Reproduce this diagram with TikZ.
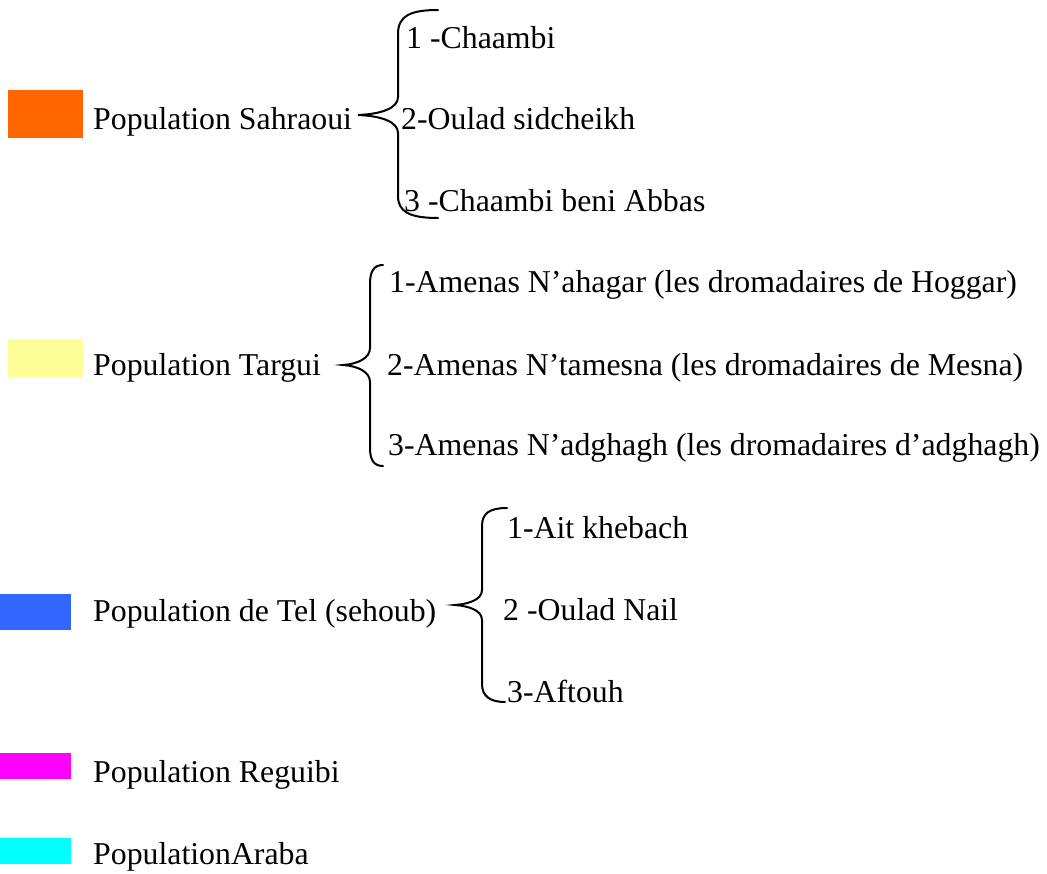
\documentclass[tikz,border=0pt]{standalone}
\usepackage{fontspec}
\setmainfont{Liberation Serif}
\definecolor{sahara}{HTML}{FF6600}
\definecolor{targui}{HTML}{FFFF99}
\definecolor{tel}{HTML}{3366FF}
\definecolor{reguibi}{HTML}{FF00FF}
\definecolor{araba}{HTML}{00FFFF}
\tikzset{swatch/.style = {inner sep=0, outer sep=0, anchor=north west}}
\tikzset{poptext/.style = {inner sep=0, anchor=base west}}
\tikzset{curly/.style = {line width=2pt, line cap=round}}

\begin{document}
\begin{tikzpicture}[x=1pt, y=-1pt, font=\fontsize{31.8}{36}\selectfont]
          \useasboundingbox (0,0) rectangle (1047,873);
          % colour swatches
          \node[swatch, fill=sahara, minimum width=75, minimum height=48] (sahraoui-box) at (8,90) {};
          \node[swatch, fill=targui, minimum width=75, minimum height=39] (targui-box) at (8,339) {};
          \node[swatch, fill=tel, minimum width=71, minimum height=36] (tel-box) at (0,594) {};
          \node[swatch, fill=reguibi, minimum width=71, minimum height=26] (reguibi-box) at (0,753) {};
          \node[swatch, fill=araba, minimum width=71, minimum height=26] (araba-box) at (0,838) {};

          \node[poptext] (sahraoui) at (93,129) {Population Sahraoui};
          \node[poptext] (targui) at (93,375) {Population Targui};
          \node[poptext] (tel) at (93,621) {Population de Tel (sehoub)};
          \node[poptext] (reguibi) at (93,782) {Population Reguibi};
          \node[poptext] (araba) at (93,864) {PopulationAraba};

          \node[poptext] (sahraoui-1) at (406,48) {1 -Chaambi};
          \node[poptext] (sahraoui-2) at (401,129) {2-Oulad sidcheikh};
          \node[poptext] (sahraoui-3) at (404,211) {3 -Chaambi beni Abbas};

          \node[poptext] (targui-1) at (389,292) {1-Amenas N’ahagar (les dromadaires de Hoggar)};
          \node[poptext] (targui-2) at (387,375) {2-Amenas N’tamesna (les dromadaires de Mesna)};
          \node[poptext] (targui-3) at (388,455) {3-Amenas N’adghagh (les dromadaires d’adghagh)};

          \node[poptext] (tel-1) at (507,538) {1-Ait khebach};
          \node[poptext] (tel-2) at (503,620) {2 -Oulad Nail};
          \node[poptext] (tel-3) at (507,702) {3-Aftouh};

          % braces
          \draw[curly] (438,10) .. controls (410,10) and (398,16) .. (398,34) -- (398,97)
            .. controls (398,108) and (382,114) .. (358,115)
            .. controls (382,116) and (398,122) .. (398,133) -- (398,196)
            .. controls (398,212) and (410,218) .. (438,218);
          \draw[curly] (383,265) .. controls (374,265) and (370,271) .. (370,284) -- (370,348)
            .. controls (370,358) and (358,364) .. (343,365)
            .. controls (358,366) and (370,372) .. (370,382) -- (370,448)
            .. controls (370,460) and (374,466) .. (383,466);
          \draw[curly] (507,508) .. controls (490,508) and (482,513) .. (482,526) -- (482,590)
            .. controls (482,600) and (468,604) .. (455,605)
            .. controls (468,606) and (482,610) .. (482,620) -- (482,684)
            .. controls (482,696) and (490,702) .. (505,702);
        \end{tikzpicture}
\end{document}
